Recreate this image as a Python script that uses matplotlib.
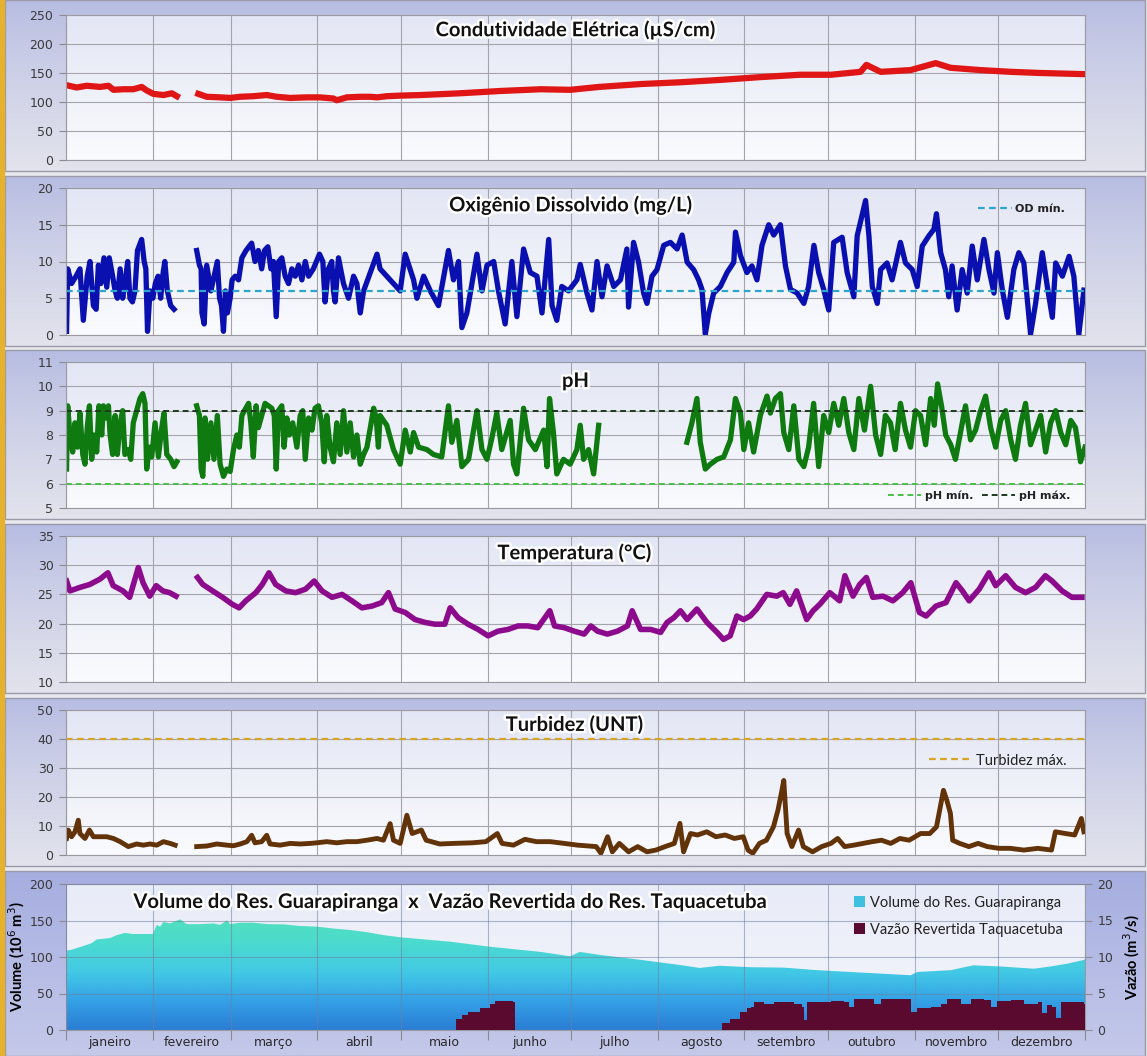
import numpy as np
import matplotlib
matplotlib.use("Agg")
import matplotlib.pyplot as plt
from matplotlib.colors import LinearSegmentedColormap, to_rgb
from matplotlib.patches import Patch, Rectangle
import matplotlib.patheffects as pe

# ---------------- data ----------------
months = ["janeiro", "fevereiro", "março", "abril", "maio", "junho",
          "julho", "agosto", "setembro", "outubro", "novembro", "dezembro"]
month_len = [31, 28, 31, 30, 31, 30, 31, 31, 30, 31, 30, 31]

nan = np.nan

ce_days = [0.2, 3.8, 7.4, 12.2, 15.2, 17.0, 20.5, 24.1, 27.1, 28.9, 31.3, 34.9, 37.9, 39.7, 40.5,
           47.4, 50.4, 55.2, 58.8, 62.4, 67.1, 71.9, 75.5, 80.3, 86.3, 91.0, 95.8, 97.0, 100.6,
           105.4, 109.0, 111.4, 114.9, 119.7, 127.0, 141.0, 155.6, 170.0, 180.6, 191.0, 206.0,
           220.0, 234.0, 249.0, 263.0, 274.0, 284.6, 286.7, 291.8, 302.5, 311.5, 316.8, 327.6,
           338.4, 349.1, 365.0]
ce_vals = [129, 125, 128, 126, 128, 121, 122, 122, 126, 120, 114, 112, 115, 110, nan,
           114, 109, 108, 107, 109, 110, 112, 109, 107, 108, 108, 106, 103, 108,
           109, 109, 108, 110, 111, 112, 115, 119, 122, 121, 126, 131,
           134, 138, 143, 147, 147, 152, 164, 152, 155, 167, 159, 155,
           152, 150, 148]

od_days = [0.2, 0.6, 2.0, 3.6, 5.0, 6.2, 7.6, 8.6, 9.8, 10.8, 11.6, 12.5, 13.6, 14.6, 15.5, 16.7,
           17.6, 18.4, 19.4, 20.3, 21.1, 22.1, 22.9, 23.8, 24.7, 25.6, 27.1, 28.0, 28.6, 29.2,
           30.1, 31.1, 32.0, 33.0, 33.9, 34.8, 35.4, 36.3, 37.5, 38.7, 39.5,
           46.8, 47.8, 48.4, 48.7, 49.5, 50.4, 51.9, 54.2, 55.0, 55.7, 56.4, 57.1, 57.8, 58.8,
           59.5, 60.6, 61.8, 63.0, 64.5, 66.5, 67.7, 68.9, 70.1, 71.1, 72.3, 73.4, 74.3, 75.3,
           76.2, 77.3, 78.5, 79.7, 80.9, 82.1, 83.3, 84.5, 85.7, 86.9, 88.6, 90.8, 92.0, 92.8,
           94.0, 95.2, 95.8, 96.4, 97.6, 99.4, 101.2, 103.0, 104.2, 105.4, 106.6, 109.0, 111.4,
           112.5, 114.9, 117.3, 119.7, 121.5, 124.5, 125.7, 128.1, 130.5, 133.4, 137.0, 138.8,
           140.6, 141.8, 143.6, 147.2, 149.0, 150.8, 153.2, 154.9, 157.3, 159.7, 161.5, 163.9,
           166.3, 168.7, 170.5, 172.9, 174.1, 175.8, 177.6, 180.0, 183.0, 184.2, 186.6, 188.4,
           190.2, 192.0, 193.8, 196.2, 198.6, 200.9, 201.5, 203.3, 205.1, 206.9, 208.1, 209.9,
           211.7, 214.1, 216.5, 218.9, 220.7, 222.5, 224.8, 226.6, 227.8, 229.0, 230.2, 232.0,
           234.4, 236.8, 239.2, 239.8, 241.6, 243.9, 245.7, 247.5, 249.3, 251.7, 253.5, 255.9,
           257.7, 259.5, 261.9, 264.3, 266.0, 267.9, 269.6, 271.4, 273.2, 275.0, 278.0, 279.8,
           282.2, 283.4, 286.4, 287.6, 288.8, 290.6, 291.8, 294.1, 295.9, 298.9, 300.7, 303.1,
           304.9, 306.7, 309.1, 310.9, 311.8, 313.3, 315.0, 316.2, 317.4, 319.2, 321.0, 322.8,
           324.6, 326.4, 328.8, 330.6, 332.4, 333.6, 335.4, 337.2, 339.5, 341.3, 343.1, 345.5,
           347.3, 349.7, 351.5, 353.3, 354.5, 356.9, 359.3, 361.0, 362.8, 364.6]
od_vals = [0.5, 9, 7, 8, 9, 2, 8, 10, 4, 3.5, 9.5, 7, 10.5, 6.5, 10.5, 8,
           6, 5, 9, 5, 7, 10, 5, 4.5, 6, 11.5, 13, 10, 9, 0.5,
           6, 5, 7, 8, 5, 8.5, 10, 6, 4, 3.5, nan,
           11.5, 9.5, 9, 3, 1.5, 9.5, 6, 10, 5, 4, 0.5, 6, 3, 5,
           7.5, 8, 7.5, 10.5, 11.5, 12.5, 10, 11.5, 9, 11.5, 12, 9, 10, 2.5,
           10, 10.5, 8, 7, 9, 8, 9.5, 7.5, 10, 8, 9, 11, 10, 4.5,
           9, 10, 6, 4.5, 10.5, 7, 5, 8, 7, 3, 6, 8.5, 11,
           9, 8, 7, 6, 11, 7.5, 5, 8, 6, 4, 11.5, 7.5,
           10, 1, 3, 11, 6, 9.5, 10, 6, 1.5, 10, 2.5, 11.7,
           8.5, 8, 3, 13, 4, 2, 6.6, 6, 7.5, 9.6, 5.7, 3.4,
           10, 5.2, 9.4, 6.6, 7.5, 11.7, 3.8, 12.6, 9.9, 5.7, 4.3, 8,
           8.9, 12.2, 12.6, 11.7, 13.6, 9.9, 8.9, 7.5, 6.2, 0.1, 2.9, 5.7,
           6.6, 8.5, 9.9, 14, 10.8, 8.5, 9.4, 7.5, 12.2, 15, 13.6, 15,
           9.4, 6.2, 5.7, 4.3, 6.6, 12.2, 8.5, 6.2, 3.4, 12.6, 13.3, 8.5,
           5.2, 13.5, 18.3, 13.5, 6.6, 4.3, 8.9, 9.8, 7.5, 12.6, 9.8, 8.9,
           6.6, 12.1, 13.5, 14.4, 16.5, 11.2, 8.9, 5.2, 9.4, 3.4, 8.9, 5.7,
           12.1, 7.5, 13, 8.9, 5.7, 11.2, 6.1, 2.4, 8.9, 11.2, 9.8, 0.1,
           4.3, 11.2, 6.6, 2.4, 9.8, 8, 10.7, 8, 0.1, 6.1]
od_min = 6

ph_days = [0.2, 0.6, 1.4, 2.4, 3.2, 4.1, 5.0, 6.0, 6.8, 7.6, 8.4, 9.2, 10.0, 11.0, 11.8, 12.8,
           13.4, 14.3, 15.2, 15.8, 16.7, 17.6, 18.4, 19.4, 20.3, 21.1, 22.3, 23.2, 24.1, 25.3,
           26.5, 27.5, 28.3, 28.9, 29.9, 30.7, 31.9, 33.1, 34.3, 35.1, 36.1, 37.5, 38.7, 39.7, 40.5,
           46.8, 47.8, 48.4, 49.0, 49.8, 50.7, 51.9, 53.0, 54.2, 55.2, 56.4, 57.6, 58.8, 60.0,
           61.2, 62.1, 63.0, 63.9, 65.4, 66.2, 67.1, 68.1, 68.9, 70.1, 71.3, 72.5, 73.7, 74.6,
           75.3, 76.1, 77.3, 78.1, 79.1, 80.0, 81.2, 82.7, 83.9, 84.8, 85.7, 86.9, 88.1, 89.2,
           90.4, 91.6, 92.5, 93.4, 94.6, 95.8, 97.0, 98.2, 99.4, 100.6, 101.8, 103.0, 104.2,
           105.4, 106.6, 107.8, 109.0, 110.2, 111.1, 111.9,
           112.5, 114.9, 117.3, 119.7, 121.5, 123.3, 124.5, 126.3, 129.3, 131.6, 134.6, 137.0,
           138.2, 140.0, 141.8, 144.2, 147.2, 149.0, 150.8, 152.6, 154.3, 156.1, 159.1, 160.3,
           161.5, 163.9, 165.7, 168.1, 171.1, 172.3, 173.2, 174.6, 175.8, 178.2, 180.6, 183.0,
           184.2, 185.4, 187.2, 189.0, 190.8, 191.5,
           222.4, 224.2, 226.0, 227.2, 229.0, 230.8, 233.2, 235.6, 238.0, 239.8, 241.6, 242.8,
           244.5, 246.3, 248.7, 251.1, 252.3, 254.1, 255.9, 257.1, 258.9, 260.7, 262.5, 264.3,
           266.0, 267.8, 269.6, 271.4, 273.2, 275.0, 276.8, 278.6, 280.4, 282.2, 284.0,
           286.0, 288.2, 290.0, 291.8, 293.5, 295.3, 297.0, 298.9, 300.7, 302.5, 304.3, 306.1,
           307.9, 309.7, 311.0, 312.2, 313.6, 315.1, 316.9, 318.6, 320.4, 322.2, 324.0, 325.8,
           327.6, 329.4, 331.2, 333.0, 334.8, 336.6, 338.4, 340.1, 341.9, 343.7, 345.5, 347.3,
           349.1, 350.9, 352.7, 354.5, 356.3, 358.1, 359.9, 361.6, 363.4, 365.0]
ph_vals = [6.6, 9.2, 8, 7.3, 8.5, 7.5, 8.9, 7.2, 6.8, 8.3, 9.2, 7, 8, 7.3, 9.2, 8,
           9.2, 8.7, 9.2, 8, 7.2, 8.8, 7.2, 8.5, 9, 7.2, 7.4, 7, 8.5, 9,
           9.5, 9.7, 9.3, 6.6, 7.5, 7.1, 8.5, 7.1, 8.3, 8.9, 7.2, 7, 6.7, 6.9, nan,
           9.2, 8.8, 6.6, 6.3, 8.7, 7, 8.5, 7, 8.8, 6.8, 6.3, 6.6, 6.5, 7.4,
           8, 7.5, 8.8, 9, 9.3, 8.5, 7.1, 9.2, 8.3, 8.8, 9.3, 9.2, 9.1, 8.8,
           6.6, 9, 9.2, 7.5, 8.7, 8, 8.5, 7.5, 8.8, 9, 7, 8.7, 8.2, 9.1,
           9.2, 8.5, 6.9, 8.8, 7.5, 6.9, 8.5, 7.2, 9, 7.3, 8.5, 7.1, 8,
           6.8, 7.2, 7.5, 8.3, 9.1, 8.7, 7.5,
           8.8, 8.4, 7.4, 6.8, 8.2, 7.3, 8.1, 7.5, 7.4, 7.2, 7.1, 9.2,
           7.7, 8.6, 6.7, 7.0, 9.0, 7.4, 7.0, 7.9, 8.9, 7.4, 8.6, 6.8,
           6.4, 9.1, 7.8, 7.4, 8.2, 6.7, 9.5, 8.1, 6.4, 7.0, 6.8, 7.4,
           8.4, 7.0, 7.4, 6.4, 8.4, nan,
           7.7, 8.5, 9.5, 7.7, 6.6, 6.8, 7.0, 7.1, 7.8, 9.5, 8.9, 7.4,
           8.5, 7.3, 8.8, 9.6, 8.9, 9.5, 9.7, 8.1, 7.4, 9.2, 7.0, 6.7,
           7.5, 9.3, 6.7, 8.8, 8.1, 9.3, 8.4, 9.5, 8.1, 7.4, 9.5,
           8.2, 10.0, 8.0, 7.2, 8.8, 8.5, 7.4, 9.3, 8.2, 7.5, 9.0, 8.8,
           7.6, 9.5, 8.4, 10.1, 9.2, 8.0, 7.6, 7.0, 8.1, 9.2, 7.8, 8.2,
           9.0, 9.6, 8.3, 7.5, 8.6, 9.0, 7.8, 7.0, 8.4, 9.3, 7.6, 8.2,
           8.8, 7.3, 8.5, 9.0, 8.1, 7.6, 8.6, 8.3, 6.9, 7.5]
ph_min, ph_max = 6, 9

tp_days = [0.2, 1.4, 5.0, 8.5, 12.1, 15.0, 16.9, 20.4, 22.8, 25.9, 27.6, 30.0, 32.3, 34.7, 37.1,
           39.4, 40.5, 47.1, 49.0, 52.5, 56.1, 59.6, 62.0, 64.4, 68.0, 70.3, 72.7, 75.1, 78.7,
           82.2, 85.8, 88.9, 91.7, 95.3, 98.9, 102.4, 106.0, 109.6, 113.1, 115.5, 117.9, 121.5,
           125.0, 128.6, 132.1, 135.7, 137.6, 140.5, 144.0, 147.6, 151.2, 154.7, 158.3, 161.9,
           165.4, 169.0, 173.3, 175.0, 178.5, 182.1, 185.6, 188.0, 190.4, 193.9, 197.5, 201.1,
           202.8, 205.8, 209.4, 213.0, 215.3, 217.7, 220.1, 222.5, 226.0, 229.6, 233.2, 235.5,
           237.9, 240.3, 242.7, 245.1, 247.4, 251.0, 254.6, 256.9, 259.3, 261.7, 265.3, 267.6,
           270.0, 273.6, 277.1, 279.0, 281.9, 284.3, 286.7, 289.0, 292.6, 296.2, 299.7, 302.6,
           305.7, 308.1, 311.6, 315.2, 318.8, 321.1, 323.5, 327.1, 330.6, 333.0, 336.6, 340.1,
           343.7, 347.3, 350.8, 353.2, 356.8, 360.3, 363.9]
tp_vals = [27.3, 25.6, 26.2, 26.7, 27.6, 28.7, 26.5, 25.6, 24.5, 29.6, 27.0, 24.7, 26.5, 25.6, 25.3,
           24.7, nan, 27.9, 26.7, 25.6, 24.5, 23.3, 22.7, 23.9, 25.3, 26.7, 28.7, 26.7, 25.6,
           25.3, 25.9, 27.3, 25.6, 24.5, 25.0, 23.9, 22.7, 23.0, 23.6, 25.3, 22.5, 21.9,
           20.7, 20.2, 19.9, 19.9, 22.7, 21.0, 19.9, 19.0, 17.9, 18.7, 19.0, 19.6,
           19.6, 19.3, 22.2, 19.6, 19.3, 18.7, 18.2, 19.6, 18.7, 18.2, 18.7, 19.6,
           22.2, 19.0, 19.0, 18.5, 20.2, 21.0, 22.2, 20.7, 22.5, 20.2, 18.5, 17.3,
           17.9, 21.3, 20.7, 21.3, 22.5, 25.0, 24.7, 25.3, 23.3, 25.6, 20.7, 22.2,
           23.3, 25.3, 23.9, 28.2, 24.7, 26.7, 27.9, 24.5, 24.7, 23.9, 25.3, 27.0,
           21.9, 21.3, 23.0, 23.6, 27.0, 25.6, 23.9, 25.9, 28.7, 26.5, 28.2, 26.2,
           25.3, 26.2, 28.2, 27.3, 25.6, 24.5, 24.5]

tb_days = [0.2, 0.8, 2.0, 3.2, 4.4, 5.0, 6.8, 8.4, 9.8, 12.2, 14.6, 17.0, 19.4, 22.3, 25.3, 27.7,
           30.1, 32.5, 34.9, 37.3, 39.1, 40.0,
           46.8, 50.4, 54.0, 57.6, 60.0, 62.4, 64.8, 66.5, 67.7, 70.1, 71.9, 73.1, 76.7, 80.3,
           83.9, 87.5, 89.8, 93.4, 97.0, 100.6, 104.2, 107.8, 111.4, 113.7, 116.1, 117.3, 119.7,
           122.1, 124.0, 127.3, 129.0, 133.9, 138.9, 145.5, 150.4, 154.5, 156.2, 160.3, 164.4,
           168.5, 173.5, 178.4, 183.3, 189.9, 191.6, 194.0, 195.7, 198.2, 201.5, 204.8, 208.1,
           211.3, 214.6, 217.9, 219.9, 221.2, 223.7, 226.2, 229.5, 232.8, 236.1, 239.4, 242.6,
           244.3, 246.0, 248.4, 250.9, 253.4, 255.0, 256.2, 257.1, 258.3, 260.0, 262.4, 264.1,
           267.4, 270.7, 274.0, 276.4, 278.9, 282.2, 285.5, 288.8, 292.1, 295.4, 298.7, 302.0,
           306.1, 309.4, 311.8, 312.7, 314.3, 315.5, 316.8, 317.6, 320.1, 323.4, 326.7, 330.0,
           334.1, 338.2, 343.1, 348.1, 353.0, 354.4, 358.0, 361.3, 363.7, 364.6]
tb_vals = [5.7, 8.6, 6.3, 8.0, 12.0, 7.4, 5.7, 8.6, 6.3, 6.3, 6.3, 5.7, 4.6, 2.9, 3.8, 3.4,
           3.8, 3.4, 4.6, 4.0, 3.4, nan,
           2.9, 3.1, 3.8, 3.4, 3.2, 3.8, 4.6, 6.8, 4.2, 4.6, 6.8, 3.8, 3.4, 4.0,
           3.8, 4.0, 4.2, 4.6, 4.2, 4.6, 4.6, 5.1, 5.7, 5.1, 10.8, 5.1, 4.0,
           13.7, 7.4, 8.6, 5.1, 3.8, 4.0, 4.2, 4.6, 7.4, 4.0, 3.4, 5.4,
           4.6, 4.6, 4.0, 3.4, 2.9, 0.6, 6.3, 1.1, 4.0, 1.1, 2.9, 1.1,
           1.7, 2.9, 4.0, 10.9, 1.1, 7.4, 6.9, 8.0, 6.3, 6.9, 5.7, 6.3,
           1.7, 0.6, 4.0, 5.1, 9.7, 15.4, 21.1, 25.7, 7.4, 2.9, 8.6, 2.9,
           1.1, 2.9, 4.0, 5.7, 2.9, 3.4, 4.0, 4.6, 5.1, 4.0, 5.7, 5.1,
           7.4, 7.4, 9.7, 14.3, 22.3, 18.9, 14.3, 5.1, 4.0, 2.9, 4.0, 2.9,
           2.3, 2.3, 1.7, 2.3, 1.7, 8.0, 7.4, 6.9, 12.6, 8.0]
tb_max = 40

vol_days = [0.2, 2.0, 6.2, 9.2, 11.0, 15.8, 18.2, 21.1, 24.1, 28.9, 31.1, 32.5, 33.7, 34.9, 37.3,
            40.9, 43.2, 48.0, 52.8, 55.2, 57.6, 58.8, 62.4, 67.1, 71.9, 77.9, 83.9, 89.8, 95.8,
            101.8, 107.8, 113.7, 119.7, 137.6, 152.0, 170.0, 180.6, 184.0, 191.0, 206.0, 220.0,
            227.0, 234.0, 245.2, 257.0, 269.0, 281.0, 293.0, 302.5, 305.0, 317.0, 325.0, 334.8,
            346.7, 352.7, 358.8, 364.6, 365.0]
vol_vals = [108.7, 110, 115, 119, 124, 126, 130, 133, 131.5, 131.5, 131.5, 144, 141.5, 148, 146,
            151.6, 145, 145, 146, 144, 150, 145, 147, 147, 145, 144.7, 142.5, 141.6, 139,
            137, 134, 130, 127, 121, 114, 107, 101, 107, 103, 96, 89,
            85, 88, 86, 85.5, 82, 79.5, 77, 75, 79.5, 82, 88.6, 87,
            84, 87, 91, 96, 97]

vz_days = [0.0, 139.8, 141.9, 144.0, 148.4, 152.0, 153.8, 157.3, 160.0, 161.0,
           235.0, 238.0, 241.6, 244.0, 245.2, 246.4, 250.0, 253.6, 257.1, 260.7, 263.7, 264.3,
           265.5, 269.1, 273.9, 278.7, 280.4, 282.2, 287.0, 289.4, 291.8, 296.6, 302.0, 302.8,
           305.0, 309.7, 313.3, 315.7, 320.5, 324.1, 328.8, 331.2, 333.6, 338.4, 343.2, 348.0,
           349.7, 351.5, 353.3, 354.5, 356.3, 359.9, 363.5, 364.7, 365.0]
vz_vals = [0.0, 1.5, 2.0, 2.5, 3.0, 3.5, 4.0, 4.0, 3.8, 0.0,
           1.0, 1.5, 2.5, 3.0, 3.2, 3.9, 3.5, 3.9, 3.9, 3.6, 3.2, 1.4,
           3.9, 3.9, 4.0, 3.9, 3.2, 4.2, 4.2, 3.6, 4.3, 4.2, 4.2, 2.5,
           3.0, 3.2, 3.6, 4.2, 3.6, 4.2, 4.1, 3.2, 4.0, 4.1, 3.6, 3.9,
           2.3, 3.4, 3.2, 1.6, 3.9, 3.9, 3.9, 3.6, 3.6]

# ---------------- layout ----------------
W, H = 1147, 1056
fig = plt.figure(figsize=(W / 100, H / 100), dpi=100)
fig.patch.set_facecolor("#e8e8ee")

bg = fig.add_axes([0, 0, 1, 1], zorder=-10)
bg.set_xlim(0, W)
bg.set_ylim(0, H)
bg.axis("off")


def vgrad(c_top, c_bot, n=128, power=1.0):
    t = np.linspace(0, 1, n) ** power
    a = np.array(to_rgb(c_top))
    b = np.array(to_rgb(c_bot))
    return (a[None, :] * (1 - t[:, None]) + b[None, :] * t[:, None])[:, None, :]


def bg_rect(x0, y0, x1, y1, ctop, cbot, edge=None, power=1.0):
    img = vgrad(ctop, cbot, power=power)
    bg.imshow(img, extent=(x0, x1, H - y1, H - y0), aspect="auto", origin="upper",
              interpolation="bilinear", zorder=1)
    if edge:
        bg.add_patch(Rectangle((x0, H - y1), x1 - x0, y1 - y0, fill=False,
                               edgecolor=edge, lw=1.0, zorder=2))


panels = [(0, 171), (176, 346), (350, 519), (524, 693), (698, 866), (871, 1056)]
plots = [(15, 160), (188, 335), (362, 508), (536, 682), (710, 855), (884, 1030)]
PX0, PX1 = 66, 1085

for i, (y0, y1) in enumerate(panels):
    if i < 5:
        bg_rect(5, y0, W - 2, y1, "#b6bce2", "#e2e3ec", edge="#9a9aa8", power=0.8)
    else:
        bg_rect(5, y0, W - 2, y1, "#a6aee0", "#c4c9ea", edge="#9a9aa8")
for i, (y0, y1) in enumerate(plots):
    if i < 5:
        bg_rect(PX0, y0, PX1, y1, "#e3e6f4", "#fafbfe")
    else:
        bg_rect(PX0, y0, PX1, y1, "#e8ebf8", "#f6f7fc")
bg.add_patch(Rectangle((0, 0), 4, H, color="#e6b22e", zorder=3))
bg.set_xlim(0, W)
bg.set_ylim(0, H)

month_edges = np.concatenate([[0], np.cumsum(month_len)])
month_mid = (month_edges[:-1] + month_edges[1:]) / 2


def make_ax(idx, ylim, yticks):
    y0, y1 = plots[idx]
    ax = fig.add_axes([PX0 / W, 1 - y1 / H, (PX1 - PX0) / W, (y1 - y0) / H])
    ax.set_facecolor("none")
    ax.set_xlim(0, 365)
    ax.set_ylim(*ylim)
    ax.set_yticks(yticks)
    ax.set_xticks(month_edges)
    ax.tick_params(axis="x", length=0, labelbottom=False)
    ax.tick_params(axis="y", length=5, color="#8a8a90", labelsize=9,
                   labelcolor="#3a3a3a", pad=4)
    ax.grid(True, color="#a4a4ac", lw=0.8)
    ax.set_axisbelow(True)
    for s in ax.spines.values():
        s.set_color("#9a9aa2")
        s.set_linewidth(0.8)
    return ax


def title(ax, text, x, y, size=14.5):
    ax.text(x, y, text, transform=ax.transAxes, ha="center", va="center",
            fontsize=size, fontweight="bold", family="Lato", color="#111111", zorder=10,
            path_effects=[pe.withStroke(linewidth=3.5, foreground="white")])


# Panel 1 - conductivity
ax1 = make_ax(0, (0, 250), [0, 50, 100, 150, 200, 250])
ax1.plot(ce_days, ce_vals, color="#e01515", lw=4.5, solid_joinstyle="round")
title(ax1, "Condutividade Elétrica (µS/cm)", 0.5, 0.897)

# Panel 2 - dissolved oxygen
ax2 = make_ax(1, (0, 20), [0, 5, 10, 15, 20])
ax2.plot(od_days, od_vals, color="#0a0fb0", lw=3.8)
ax2.axhline(od_min, color="#2ea6cc", lw=1.6, ls=(0, (3, 2)), label="OD mín.")
title(ax2, "Oxigênio Dissolvido (mg/L)", 0.495, 0.884)
leg = ax2.legend(loc="upper right", bbox_to_anchor=(0.99, 0.96), frameon=False,
                 handlelength=3.0, handletextpad=0.3,
                 prop={"family": "DejaVu Sans", "weight": "bold", "size": 8})
for t in leg.get_texts():
    t.set_color("#222222")

# Panel 3 - pH
ax3 = make_ax(2, (5, 11), [5, 6, 7, 8, 9, 10, 11])
ax3.plot(ph_days, ph_vals, color="#0e7a10", lw=3.8)
ax3.axhline(ph_min, color="#48c048", lw=1.4, ls=(0, (3, 2)), label="pH mín.")
ax3.axhline(ph_max, color="#1e3a1e", lw=1.4, ls=(0, (3, 2)), label="pH máx.")
title(ax3, "pH", 0.5, 0.87)
leg = ax3.legend(loc="lower right", bbox_to_anchor=(0.995, -0.02), ncol=2, frameon=False,
                 handlelength=3.0, handletextpad=0.3, columnspacing=0.8,
                 prop={"family": "DejaVu Sans", "weight": "bold", "size": 8})
for t in leg.get_texts():
    t.set_color("#222222")

# Panel 4 - temperature
ax4 = make_ax(3, (10, 35), [10, 15, 20, 25, 30, 35])
ax4.plot(tp_days, tp_vals, color="#8c0a8c", lw=4.0, solid_joinstyle="round")
title(ax4, "Temperatura (°C)", 0.499, 0.884)

# Panel 5 - turbidity
ax5 = make_ax(4, (0, 50), [0, 10, 20, 30, 40, 50])
ax5.plot(tb_days, tb_vals, color="#623308", lw=3.5)
ax5.axhline(tb_max, color="#d8a424", lw=1.6, ls=(0, (3, 2)), label="Turbidez máx.")
title(ax5, "Turbidez (UNT)", 0.499, 0.897)
leg = ax5.legend(loc="upper right", bbox_to_anchor=(0.995, 0.79), frameon=False,
                 handlelength=3.0, handletextpad=0.2,
                 prop={"family": "Lato", "size": 10.5})
for t in leg.get_texts():
    t.set_color("#222222")

# Panel 6 - volume x vazao
ax6 = make_ax(5, (0, 200), [0, 50, 100, 150, 200])
ax6.set_axisbelow(False)
ax6.grid(True, color="#7080a0", lw=0.8, alpha=0.55, zorder=3)
poly = ax6.fill_between(vol_days, vol_vals, 0, facecolor="none", edgecolor="none")
cmap_vol = LinearSegmentedColormap.from_list(
    "vol", ["#2a7dd4", "#34a0e6", "#42c8e6", "#4bdad0", "#52e0bc"])
im = ax6.imshow(np.linspace(0, 1, 256).reshape(-1, 1), extent=(0, 365, 0, 155),
                origin="lower", cmap=cmap_vol, aspect="auto", zorder=1,
                interpolation="bilinear")
im.set_clip_path(poly.get_paths()[0], transform=ax6.transData)
ax6.set_xlim(0, 365)
ax6.set_ylim(0, 200)
ax6.set_xticks(month_edges)
ax6.set_xticks(month_mid, minor=True)
ax6.set_xticklabels(months, minor=True)
ax6.tick_params(axis="x", which="major", length=7, color="#8a8a90", labelbottom=False)
ax6.tick_params(axis="x", which="minor", length=0, labelsize=9, labelcolor="#2a2a2a", pad=4)
ax6.set_ylabel("Volume (10$^6$ m$^3$)", fontsize=10.5, fontweight="bold", family="Lato",
               labelpad=2)

ax6b = ax6.twinx()
ax6b.set_ylim(0, 20)
ax6b.set_yticks([0, 5, 10, 15, 20])
ax6b.tick_params(axis="y", length=5, color="#8a8a90", labelsize=9,
                 labelcolor="#3a3a3a", pad=4)
for s in ax6b.spines.values():
    s.set_visible(False)
ax6b.fill_between(vz_days, vz_vals, 0, step="post", color="#5a0a2e", lw=0, zorder=2)
ax6b.set_ylabel("Vazão (m$^3$/s)", fontsize=10.5, fontweight="bold", family="Lato",
                labelpad=6)
ax6b.set_xlim(0, 365)

title(ax6, "Volume do Res. Guarapiranga  x  Vazão Revertida do Res. Taquacetuba",
      0.377, 0.877, size=14.5)
handles = [Patch(facecolor="#3fc0e0", edgecolor="none"),
           Patch(facecolor="#5a0a2e", edgecolor="none")]
leg = ax6b.legend(handles, ["Volume do Res. Guarapiranga", "Vazão Revertida Taquacetuba"],
                  loc="upper left", bbox_to_anchor=(0.76, 1.01), frameon=False,
                  handlelength=0.8, handleheight=0.8, handletextpad=0.3,
                  labelspacing=0.9, prop={"family": "Lato", "size": 10.5})
for t in leg.get_texts():
    t.set_color("#222222")

fig.savefig("out.png", dpi=100, facecolor=fig.get_facecolor())
